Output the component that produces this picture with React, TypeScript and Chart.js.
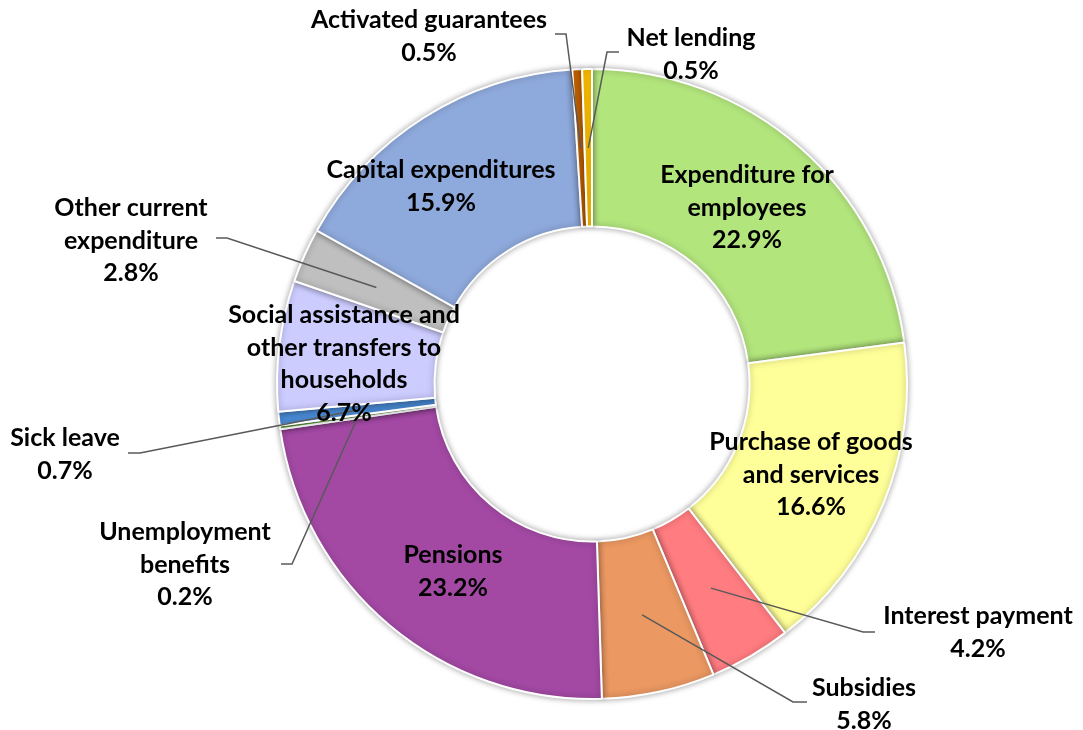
import React, { useEffect, useRef } from "react";
import { Chart, registerables } from "chart.js";

Chart.register(...registerables);

const categories = [
  "Expenditure for employees",
  "Purchase of goods and services",
  "Interest payment",
  "Subsidies",
  "Pensions",
  "Unemployment benefits",
  "Sick leave",
  "Social assistance and other transfers to households",
  "Other current expenditure",
  "Capital expenditures",
  "Activated guarantees",
  "Net lending",
];

const shares = [22.9, 16.6, 4.2, 5.8, 23.2, 0.2, 0.7, 6.7, 2.8, 15.9, 0.5, 0.5];

const colors = [
  "#B3E57D",
  "#FFFF99",
  "#FF7C80",
  "#EB9862",
  "#A349A4",
  "#70AD47",
  "#4A8BD6",
  "#CCCCFF",
  "#BFBFBF",
  "#8EA9DB",
  "#CC6600",
  "#FFC000",
];

// label text lines (value appended as last line)
const labelLines = [
  ["Expenditure for", "employees"],
  ["Purchase of goods", "and services"],
  ["Interest payment"],
  ["Subsidies"],
  ["Pensions"],
  ["Unemployment", "benefits"],
  ["Sick leave"],
  ["Social assistance and", "other transfers to", "households"],
  ["Other current", "expenditure"],
  ["Capital expenditures"],
  ["Activated guarantees"],
  ["Net lending"],
];

// label layout: center x, first-line y
const labelPos: [number, number][] = [
  [747, 175],
  [811, 442],
  [978, 616],
  [864, 688],
  [453, 555],
  [185, 532],
  [65, 438],
  [344, 315],
  [131, 208],
  [441, 170],
  [429, 20],
  [691, 38],
];

// leader line: [elbowX, elbowY, endX] or null
const leaders: ([number, number, number] | null)[] = [
  null,
  null,
  [863, 632, 875],
  [793, 702, 807],
  null,
  [292, 564, 281],
  [140, 453, 128],
  null,
  [227, 238, 216],
  null,
  [566, 34, 555],
  [607, 52, 619],
];

const FONT = "bold 25px Lato, 'Open Sans', sans-serif";
const LINE_H = 32.6;

const labelPlugin = {
  id: "doughnutLabels",
  afterDatasetsDraw(chart: any) {
    const ctx = chart.ctx;
    const meta = chart.getDatasetMeta(0);
    ctx.save();
    ctx.strokeStyle = "#595959";
    ctx.lineWidth = 1.5;
    meta.data.forEach((arc: any, i: number) => {
      const ld = leaders[i];
      if (!ld) return;
      const p = arc.getCenterPoint();
      ctx.beginPath();
      ctx.moveTo(p.x, p.y);
      ctx.lineTo(ld[0], ld[1]);
      ctx.lineTo(ld[2], ld[1]);
      ctx.stroke();
    });
    ctx.font = FONT;
    ctx.fillStyle = "#000";
    ctx.textAlign = "center";
    ctx.textBaseline = "middle";
    labelLines.forEach((lines, i) => {
      const all = [...lines, shares[i].toFixed(1) + "%"];
      const [x, y] = labelPos[i];
      all.forEach((t, j) => ctx.fillText(t, x, y + j * LINE_H));
    });
    ctx.restore();
  },
};

const shadowPlugin = {
  id: "arcShadow",
  beforeDatasetsDraw(chart: any) {
    const ctx = chart.ctx;
    ctx.save();
    ctx.shadowColor = "rgba(0,0,0,0.35)";
    ctx.shadowBlur = 6;
    ctx.shadowOffsetX = 0;
    ctx.shadowOffsetY = 0;
  },
  afterDatasetsDraw(chart: any) {
    chart.ctx.restore();
  },
};

export default function App() {
  const ref = useRef<HTMLCanvasElement>(null);
  useEffect(() => {
    if (!ref.current) return;
    const chart = new Chart(ref.current, {
      type: "doughnut",
      data: {
        labels: categories,
        datasets: [
          {
            data: shares,
            backgroundColor: colors,
            borderColor: "#FFFFFF",
            borderWidth: 2,
          },
        ],
      },
      options: {
        responsive: false,
        animation: false,
        cutout: "50%",
        layout: { padding: { left: 276, top: 68, right: 175, bottom: 30 } },
        plugins: {
          legend: { display: false },
          tooltip: { enabled: false },
        },
      },
      plugins: [shadowPlugin, labelPlugin],
    });
    return () => chart.destroy();
  }, []);
  return (
    <div style={{ position: "fixed", left: 0, top: 0, width: 1083, height: 730, background: "#fff" }}>
      <canvas ref={ref} width={1083} height={730} style={{ display: "block" }} />
    </div>
  );
}
